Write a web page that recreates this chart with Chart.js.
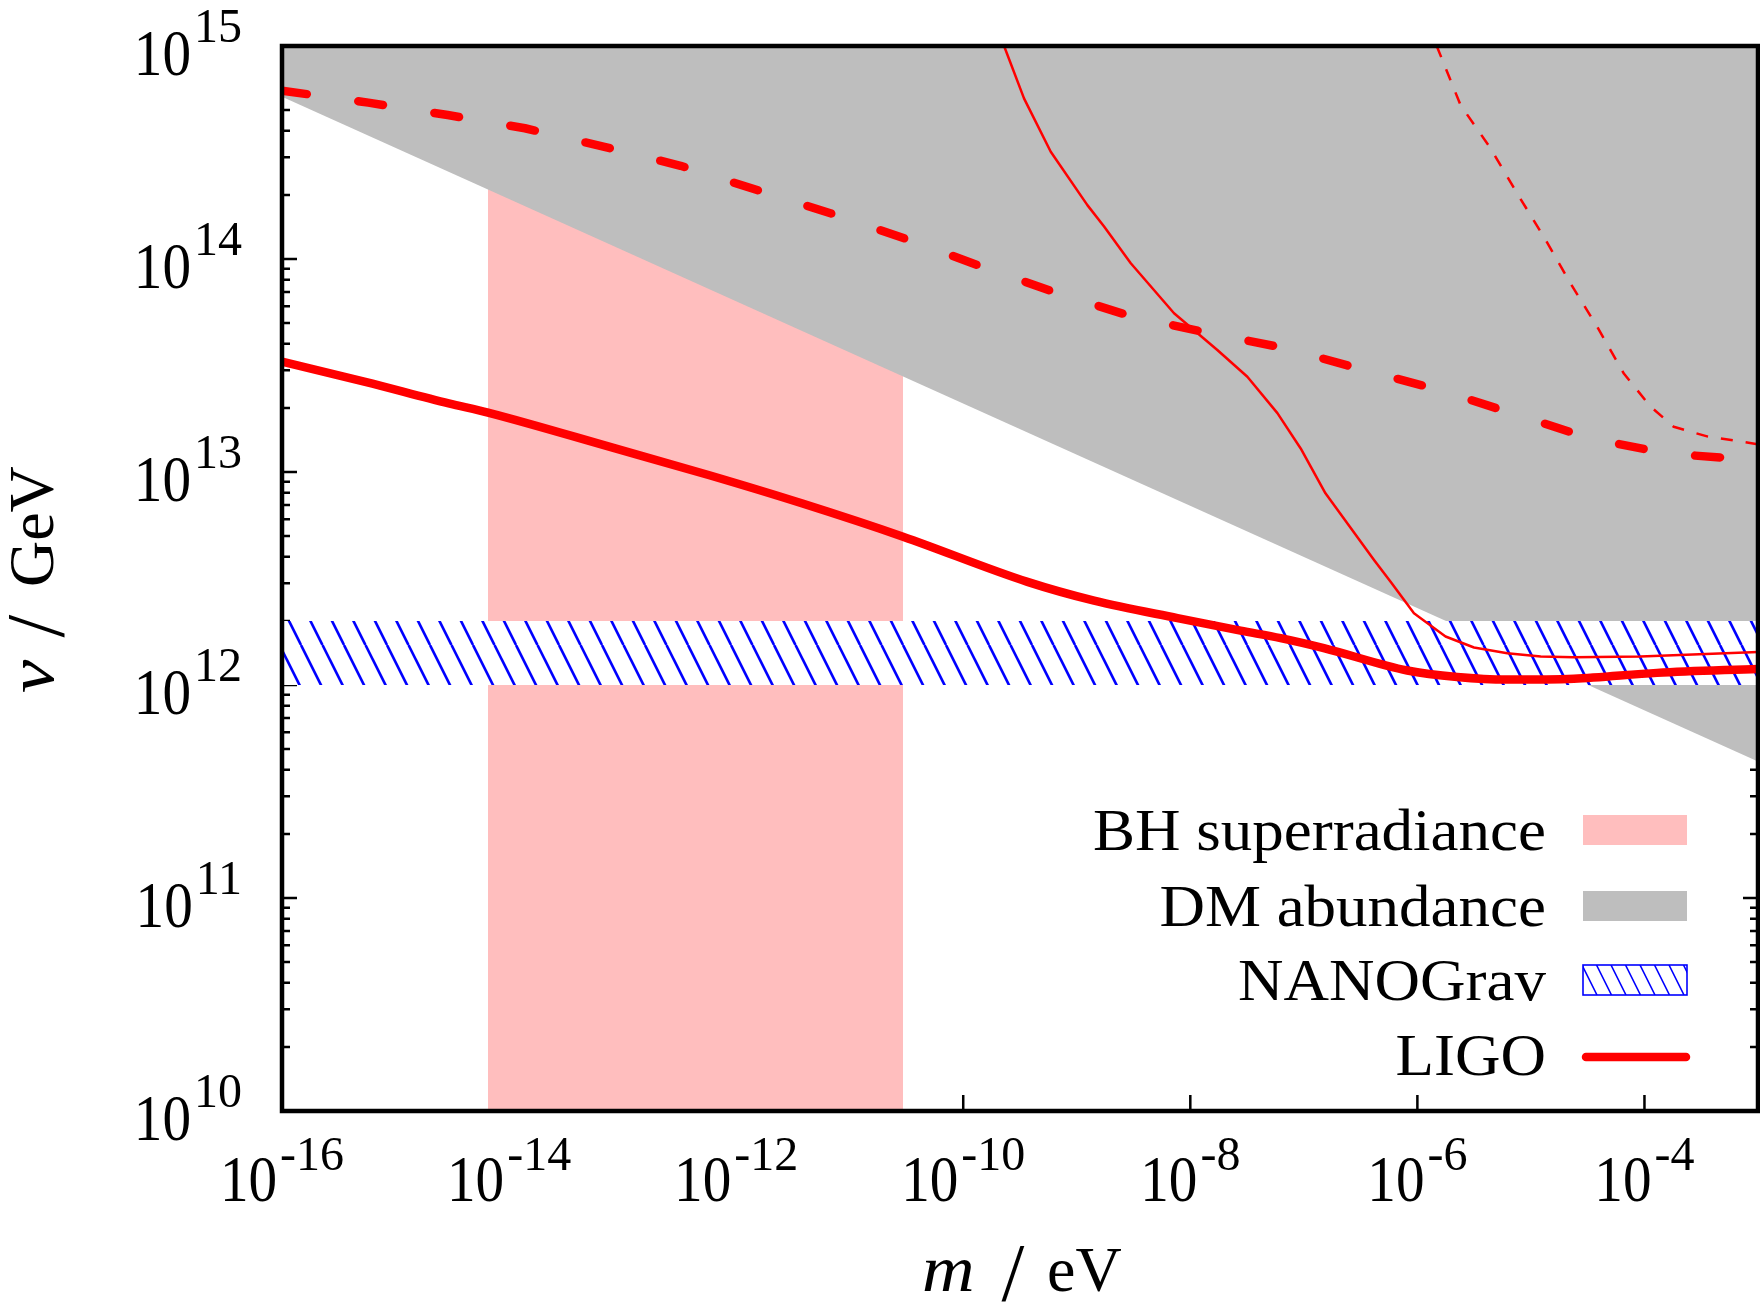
<!DOCTYPE html>
<html>
<head>
<meta charset="utf-8">
<title>Axion-like parameter space: v versus m</title>
<script src="https://cdn.jsdelivr.net/npm/chart.js@4.4.0/dist/chart.umd.min.js"></script>
<style>
  html, body { margin: 0; padding: 0; background: #ffffff; }
  canvas { display: block; }
</style>
</head>
<body>
<canvas id="c" width="1760" height="1306" style="width:1760px;height:1306px"></canvas>
<script>
// ---------------- data ----------------
// axis decades (exponents of ten)
const xTickExps = [-16, -14, -12, -10, -8, -6, -4];
const yTickExps = [10, 11, 12, 13, 14, 15];
const xRange = [1e-16, 1e-3];
const yRange = [1e10, 1e15];

// BH superradiance: excluded mass window (eV)
const bhMass = [6.52e-15, 2.95e-11];
const bhV    = [1e15, 1e15];

// DM abundance: region above this boundary
const dmMass = [1e-16, 1e-3];
const dmV    = [5.78e14, 4.37e11];

// NANOGrav band
const nanoMass  = [1e-16, 1e-3];
const nanoUpper = [2e12, 2e12];
const nanoLower = 1e12;

// LIGO (thick solid)
const ligoMass = [1e-16, 5.41e-16, 2.94e-15, 6.52e-15, 8.61e-14, 5.71e-13, 3.78e-12, 2.95e-11,
                  3.68e-10, 1.42e-9, 7.71e-9, 2.77e-8, 6.25e-8, 1.50e-7, 8.15e-7, 2.24e-6,
                  6.19e-6, 2.39e-5, 1.29e-4, 1e-3];
const ligoV    = [3.30e13, 2.65e13, 2.10e13, 1.90e13, 1.29e13, 9.68e12, 7.13e12, 4.97e12,
                  3.05e12, 2.49e12, 2.06e12, 1.80e12, 1.66e12, 1.49e12, 1.17e12, 1.09e12,
                  1.06e12, 1.07e12, 1.14e12, 1.19e12];

// thick dashed curve
const dashMass = [1e-16, 5.75e-16, 2.88e-15, 1.38e-14, 6.76e-14, 3.24e-13, 1.48e-12, 6.76e-12,
                  3.16e-11, 1.41e-10, 6.46e-10, 2.95e-9, 1.41e-8, 6.92e-8, 3.24e-7, 1.55e-6,
                  7.24e-6, 3.31e-5, 1.58e-4, 7.41e-4, 1e-3];
const dashV    = [6.17e14, 5.42e14, 4.74e14, 4.11e14, 3.37e14, 2.74e14, 2.12e14, 1.64e14,
                  1.24e14, 9.27e13, 6.97e13, 5.40e13, 4.51e13, 3.81e13, 3.03e13, 2.43e13,
                  1.87e13, 1.44e13, 1.22e13, 1.15e13, 1.14e13];

// thin solid curve
const thinMass = [2.29e-10, 3.43e-10, 5.90e-10, 1.24e-9, 1.74e-9, 2.99e-9, 7.19e-9, 1.73e-8,
                  3.18e-8, 5.85e-8, 9.38e-8, 1.55e-7, 4.15e-7, 5.81e-7, 9.33e-7, 1.07e-6,
                  1.77e-6, 3.15e-6, 6.19e-6, 1.22e-5, 2.39e-5, 9.25e-5, 1e-3];
const thinV    = [1e15, 5.68e14, 3.19e14, 1.79e14, 1.42e14, 9.55e13, 5.56e13, 3.74e13,
                  2.80e13, 1.89e13, 1.29e13, 7.94e12, 3.86e12, 3.05e12, 2.17e12, 2.06e12,
                  1.69e12, 1.50e12, 1.41e12, 1.36e12, 1.35e12, 1.36e12, 1.43e12];

// thin dashed curve
const thinDashMass = [1.48e-6, 2.40e-6, 4.41e-6, 7.57e-6, 1.30e-5, 2.23e-5, 3.83e-5, 6.58e-5,
                      1.13e-4, 1.81e-4, 3.56e-4, 1e-3];
const thinDashV    = [1e15, 5.28e14, 3.31e14, 2.03e14, 1.27e14, 7.69e13, 4.81e13, 2.90e13,
                      2.03e13, 1.63e13, 1.47e13, 1.35e13];

// ---------------- styling ----------------
const RED = '#ff0000';
const PINK = 'rgb(255,190,190)';
const GRAY = 'rgb(190,190,190)';
const BLUE = '#0000ff';
const SERIF = '"Liberation Serif", "Times New Roman", serif';
const NONE = 'rgba(0,0,0,0)';

const canvas = document.getElementById('c');
const ctx = canvas.getContext('2d');

// diagonal "\\\" hatch on white
function hatchPattern(step, lw, color) {
  const tile = document.createElement('canvas');
  const w = Math.round(step * 2), h = w;
  tile.width = w; tile.height = h;
  const g = tile.getContext('2d');
  g.fillStyle = '#ffffff';
  g.fillRect(0, 0, w, h);
  g.strokeStyle = color;
  g.lineWidth = lw;
  const s = w / 2;
  for (let o = -w; o <= w; o += s) {
    g.beginPath();
    g.moveTo(o, 0);
    g.lineTo(o + s, h);
    g.stroke();
  }
  return ctx.createPattern(tile, 'repeat');
}

const pts = (xs, ys) => xs.map((x, i) => ({ x, y: ys[i] }));

// ---------------- frame, ticks, labels, legend ----------------
function drawPow(c, exp, x, base, align, expRaise) {
  const sx = 0.88, gap = 3;
  c.font = '65px ' + SERIF;
  const wb = c.measureText('10').width * sx;
  c.font = '48px ' + SERIF;
  const es = String(exp);
  const we = c.measureText(es).width;
  const total = wb + gap + we;
  const left = align === 'right' ? x - total : x - total / 2;
  c.save();
  c.font = '65px ' + SERIF;
  c.translate(left, base);
  c.scale(sx, 1);
  c.fillText('10', 0, 0);
  c.restore();
  c.font = '48px ' + SERIF;
  c.fillText(es, left + wb + gap, base - expRaise);
}

const legendRows = [
  { ds: 0, kind: 'box', base: 850 },
  { ds: 1, kind: 'box', base: 926 },
  { ds: 2, kind: 'hatch', base: 1000 },
  { ds: 3, kind: 'line', base: 1075 }
];

const framePlugin = {
  id: 'frame',
  beforeDatasetsDraw(chart) {
    const c = chart.ctx, a = chart.chartArea;
    const xs = chart.scales.x, ys = chart.scales.y;
    c.save();
    c.strokeStyle = '#000';
    c.lineWidth = 2.5;
    c.beginPath();
    for (let e = yTickExps[0]; e <= yTickExps[yTickExps.length - 1]; e++) {
      for (let k = 1; k < 10; k++) {
        if (e === yTickExps[yTickExps.length - 1] && k > 1) break;
        const py = ys.getPixelForValue(k * Math.pow(10, e));
        const len = k === 1 ? 15 : 8;
        c.moveTo(a.left, py); c.lineTo(a.left + len, py);
        c.moveTo(a.right, py); c.lineTo(a.right - len, py);
      }
    }
    xTickExps.forEach(e => {
      const px = xs.getPixelForValue(Math.pow(10, e));
      c.moveTo(px, a.bottom); c.lineTo(px, a.bottom - 16);
      c.moveTo(px, a.top); c.lineTo(px, a.top + 16);
    });
    c.stroke();
    c.restore();
  },
  afterDatasetsDraw(chart) {
    const c = chart.ctx, a = chart.chartArea;
    const xs = chart.scales.x, ys = chart.scales.y;
    c.save();
    // border
    c.strokeStyle = '#000';
    c.lineWidth = 4.5;
    c.strokeRect(a.left, a.top, a.right - a.left, a.bottom - a.top);

    // tick labels
    c.fillStyle = '#000';
    c.textAlign = 'left';
    c.textBaseline = 'alphabetic';
    yTickExps.forEach(e => {
      const py = ys.getPixelForValue(Math.pow(10, e));
      drawPow(c, e, 242, py + 28.5, 'right', 33);
    });
    xTickExps.forEach(e => {
      const px = xs.getPixelForValue(Math.pow(10, e));
      drawPow(c, e, px, 1201, 'center', 31);
    });

    // x axis title: m / eV
    c.save();
    c.font = 'italic 65px ' + SERIF;
    c.translate(922, 1291);
    c.scale(1.12, 1);
    c.fillText('m', 0, 0);
    c.restore();
    c.font = '82px ' + SERIF;
    c.textAlign = 'center';
    c.fillText('/', 1013, 1300);
    c.textAlign = 'left';
    c.font = '64px ' + SERIF;
    c.fillText('eV', 1047, 1291);

    // y axis title: v / GeV (rotated)
    c.save();
    c.translate(53, 0);
    c.rotate(-Math.PI / 2);
    c.save();
    c.font = 'italic 65px ' + SERIF;
    c.translate(-693, 0);
    c.scale(1.15, 1);
    c.fillText('v', 0, 0);
    c.restore();
    c.font = '82px ' + SERIF;
    c.textAlign = 'center';
    c.fillText('/', -626, 10);
    c.textAlign = 'left';
    c.font = '64px ' + SERIF;
    c.fillText('GeV', -587, 0);
    c.restore();

    // legend
    const textRight = 1546, sx = 1.05;
    const boxL = 1583, boxR = 1687;
    legendRows.forEach(row => {
      const ds = chart.data.datasets[row.ds];
      c.font = '60px ' + SERIF;
      const w = c.measureText(ds.label).width * sx;
      c.save();
      c.translate(textRight - w, row.base);
      c.scale(sx, 1);
      c.fillStyle = '#000';
      c.fillText(ds.label, 0, 0);
      c.restore();
      const cy = row.base - 20;
      if (row.kind === 'box') {
        c.fillStyle = ds.backgroundColor;
        c.fillRect(boxL, cy - 15, boxR - boxL, 30);
      } else if (row.kind === 'hatch') {
        const top = cy - 15, bot = cy + 15;
        c.save();
        c.fillStyle = '#fff';
        c.fillRect(boxL, top, boxR - boxL, 30);
        c.beginPath();
        c.rect(boxL, top, boxR - boxL, 30);
        c.clip();
        c.strokeStyle = BLUE;
        c.lineWidth = 1.6;
        c.beginPath();
        for (let x0 = boxL - 30; x0 < boxR + 15; x0 += 14.5) {
          c.moveTo(x0, top); c.lineTo(x0 + 15, bot);
        }
        c.stroke();
        c.restore();
        c.strokeStyle = BLUE;
        c.lineWidth = 1.6;
        c.strokeRect(boxL, top, boxR - boxL, 30);
      } else {
        c.strokeStyle = ds.borderColor;
        c.lineWidth = 8.5;
        c.lineCap = 'round';
        c.beginPath();
        c.moveTo(boxL + 3, cy + 2); c.lineTo(boxR - 1, cy + 2);
        c.stroke();
        c.lineCap = 'butt';
      }
    });
    c.restore();
  }
};

// ---------------- chart ----------------
new Chart(ctx, {
  type: 'line',
  data: {
    datasets: [
      { label: 'BH superradiance', data: pts(bhMass, bhV), backgroundColor: PINK,
        borderColor: NONE, borderWidth: 0, fill: { value: yRange[0] }, order: 50, clip: 0 },
      { label: 'DM abundance', data: pts(dmMass, dmV), backgroundColor: GRAY,
        borderColor: NONE, borderWidth: 0, fill: { value: yRange[1] }, order: 40, clip: 0 },
      { label: 'NANOGrav', data: pts(nanoMass, nanoUpper), backgroundColor: hatchPattern(21.6, 2.6, BLUE),
        borderColor: NONE, borderWidth: 0, fill: { value: nanoLower }, order: 30, clip: 0 },
      { label: 'LIGO', data: pts(ligoMass, ligoV), borderColor: RED, borderWidth: 8.5,
        fill: false, cubicInterpolationMode: 'monotone', order: 3, clip: 0 },
      { label: 'LIGO dashed', data: pts(dashMass, dashV), borderColor: RED, borderWidth: 8.5,
        borderDash: [25, 52], borderCapStyle: 'round', fill: false, tension: 0, order: 2, clip: 0 },
      { label: 'thin', data: pts(thinMass, thinV), borderColor: RED, borderWidth: 2.5,
        fill: false, tension: 0, order: 1, clip: 0 },
      { label: 'thin dashed', data: pts(thinDashMass, thinDashV), borderColor: RED, borderWidth: 2.5,
        borderDash: [12, 13], fill: false, tension: 0, order: 0, clip: 0 }
    ]
  },
  options: {
    responsive: false,
    animation: false,
    devicePixelRatio: 1,
    layout: { padding: { left: 282, right: 2, top: 46, bottom: 195 } },
    elements: { point: { radius: 0, hoverRadius: 0 }, line: { borderJoinStyle: 'round' } },
    scales: {
      x: { type: 'logarithmic', min: xRange[0], max: xRange[1], display: false },
      y: { type: 'logarithmic', min: yRange[0], max: yRange[1], display: false }
    },
    plugins: { legend: { display: false }, tooltip: { enabled: false } },
    events: []
  },
  plugins: [framePlugin]
});
</script>
</body>
</html>
